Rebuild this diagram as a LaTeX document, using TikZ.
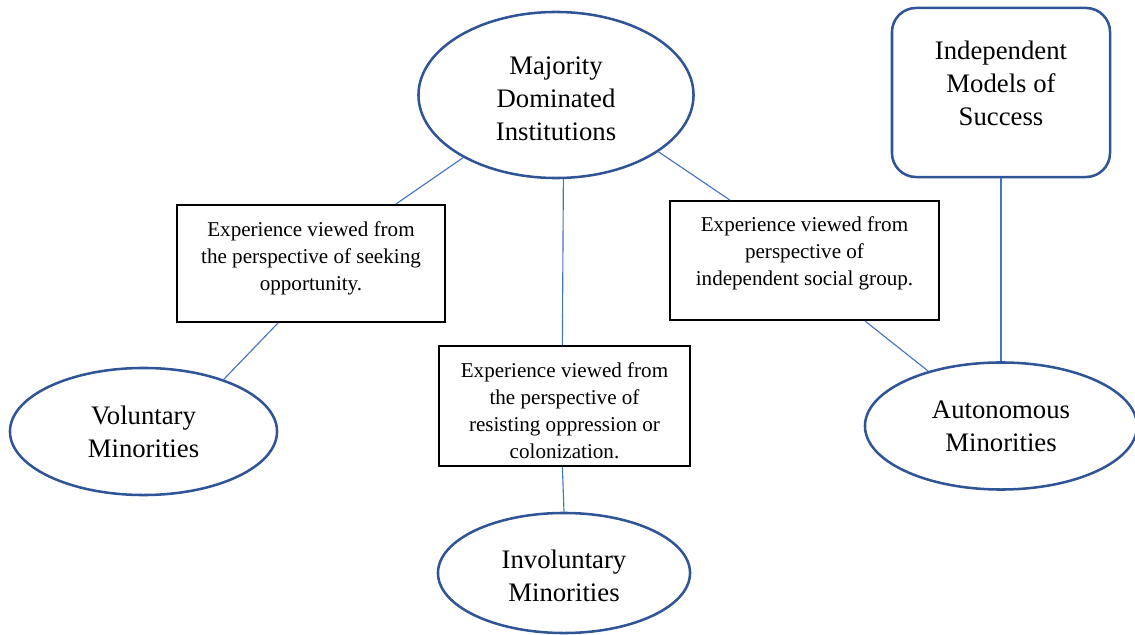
\documentclass[tikz,border=0pt]{standalone}
\usepackage{fontspec}
\setmainfont{Liberation Serif}
\usetikzlibrary{shapes.geometric,positioning}

\definecolor{ovalblue}{HTML}{2F5597}
\definecolor{linkblue}{HTML}{4472C4}

\tikzset{
  oval/.style={ellipse, draw=ovalblue, line width=1.8pt, inner sep=0pt,
    align=center, font=\fontsize{19}{23.5}\selectfont},
  rbox/.style={rectangle, rounded corners=0.6cm, draw=ovalblue, line width=1.8pt,
    inner sep=0pt, minimum width=5.45cm, minimum height=4.225cm},
  boxed/.style={rectangle, draw=black, line width=1.4pt, inner sep=0pt,
    align=center, font=\fontsize{15}{19.2}\selectfont},
  bigtxt/.style={align=center, font=\fontsize{19}{23.5}\selectfont},
  link/.style={draw=linkblue, line width=0.8pt}
}

\begin{document}
\begin{tikzpicture}[x=0.025cm, y=-0.025cm]
\useasboundingbox (0,0) rectangle (1135,635);

% ovals
\node[oval, minimum width=6.875cm, minimum height=4.15cm] (maj) at (556,95) {\rule{0pt}{18pt}Majority\\Dominated\\Institutions};
\node[oval, minimum width=6.675cm, minimum height=3.175cm] (vol) at (143.5,431.5) {Voluntary\\Minorities};
\node[oval, minimum width=6.3cm, minimum height=3cm] (inv) at (564,573) {\rule{0pt}{17pt}Involuntary\\Minorities};
\node[oval, minimum width=6.8cm, minimum height=3.175cm] (aut) at (1001,426) {Autonomous\\Minorities};

% rounded box
\node[rbox] (ind) at (1001,92.5) {};
\node[bigtxt] (indtxt) at (1001,83) {Independent\\Models of\\Success};

% perspective boxes
\node[boxed, minimum width=6.7cm, minimum height=2.925cm] (lb) at (311,263.5) {Experience viewed from\\the perspective of seeking\\opportunity.\rule[-11pt]{0pt}{0pt}};
\node[boxed, minimum width=6.275cm, minimum height=3cm] (mb) at (564.5,406) {\rule{0pt}{17.4pt}Experience viewed from\\the perspective of\\resisting oppression or\\colonization.};
\node[boxed, minimum width=6.725cm, minimum height=2.975cm] (rb) at (804.5,260.5) {Experience viewed from\\perspective of\\independent social group.\rule[-14pt]{0pt}{0pt}};

% connectors
\draw[link] (maj.214) -- (lb.35);
\draw[link] (maj.275) -- (mb.92);
\draw[link] (maj.331) -- (rb.141);
\draw[link] (lb.241) -- (vol.33);
\draw[link] (mb.268) -- (inv.north);
\draw[link] (rb.315) -- (aut.143);
\draw[link] (ind.south) -- (aut.north);
\end{tikzpicture}
\end{document}
